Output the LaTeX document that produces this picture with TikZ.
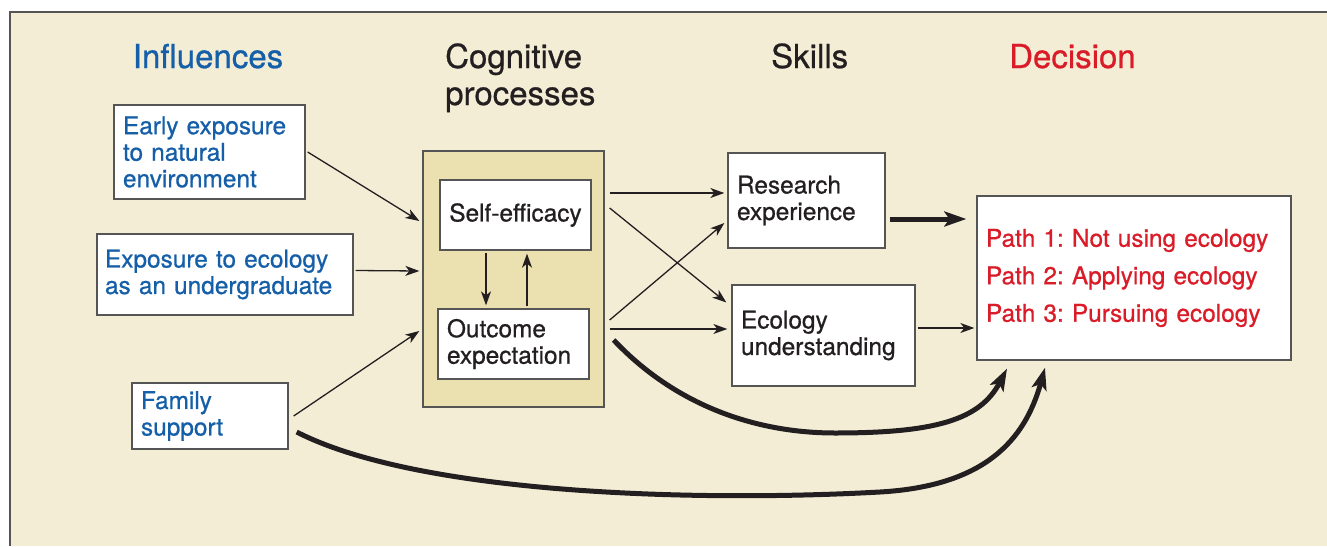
\documentclass[tikz,border=0pt]{standalone}
\usepackage{fontspec}
\setmainfont{TeX Gyre Heros}[FakeBold=0.7]
\usetikzlibrary{arrows.meta}
\definecolor{cream}{RGB}{244,237,214}
\definecolor{cogfill}{RGB}{235,224,176}
\definecolor{framegray}{RGB}{85,85,85}
\definecolor{inkblack}{RGB}{35,31,32}
\definecolor{inkblue}{RGB}{21,94,168}
\definecolor{inkred}{RGB}{218,27,40}
\tikzset{
  box/.style={draw=framegray, line width=1.3pt, fill=white, inner sep=0pt, align=left,
    font=\fontsize{24.4}{26.5}\selectfont},
  heading/.style={font=\fontsize{33}{37}\selectfont, inner sep=0pt, align=left},
  thinarrow/.style={draw=inkblack, line width=1.3pt, -{Stealth[length=14pt,width=10pt,inset=4pt]}},
  thickarrow/.style={draw=inkblack, line width=5pt, -{Stealth[length=22pt,width=15pt,inset=5pt]}},
}
\frenchspacing
\begin{document}
\begin{tikzpicture}[x=1pt,y=-1pt]
\useasboundingbox (0,0) rectangle (1327,546);
\fill[white] (0,0) rectangle (1327,546);
\fill[cream] (10,12) rectangle (1327,546);
\draw[framegray, line width=2pt] (10,546) -- (10,12) -- (1327,12);

% headings
\node[heading, text=inkblue, anchor=base] (hinf) at (208,68) {Influences};
\node[heading, text=inkblack, anchor=base west] (hcog) at (445,105) {Cognitive\\processes};
\node[heading, text=inkblack, anchor=base west] (hskill) at (771,68) {Skills};
\node[heading, text=inkred, anchor=base west] (hdec) at (1009,68) {Decision};

% influences
\node[box, text=inkblue, minimum width=191pt, minimum height=94pt, text width=173pt] (early) at (209.5,152)
  {Early exposure\\to natural\\environment};
\node[box, text=inkblue, minimum width=256pt, minimum height=81pt, text width=240pt] (expo) at (225,274.5)
  {Exposure to ecology\\as an undergraduate};
\node[box, text=inkblue, minimum width=156pt, minimum height=66pt, text width=138pt] (family) at (210,416)
  {Family\\support};

% cognitive processes
\node[draw=framegray, line width=1.3pt, fill=cogfill, minimum width=181pt, minimum height=256pt, inner sep=0pt] (cog) at (513.5,279) {};
\node[box, text=inkblack, minimum width=151pt, minimum height=70pt, align=center] (self) at (515.5,215) {Self-efficacy};
\node[box, text=inkblack, minimum width=151pt, minimum height=70pt, text width=133pt] (outc) at (513.5,344)
  {Outcome\\expectation};

% skills
\node[box, text=inkblack, minimum width=157pt, minimum height=95pt, text width=139pt] (research) at (806.5,200.5)
  {Research\\experience};
\node[box, text=inkblack, minimum width=183pt, minimum height=101pt, text width=165pt] (ecol) at (823.5,335.5)
  {Ecology\\understanding};

% decision
\node[box, text=inkred, minimum width=314pt, minimum height=164pt, text width=296pt,
  font=\fontsize{24.4}{37.5}\selectfont] (dec) at (1134,278)
  {Path 1: Not using ecology\\Path 2: Applying ecology\\Path 3: Pursuing ecology};

% connectors
\draw[thinarrow] ([shift={(2,0)}]early.east) -- ([shift={(-3,-58)}]cog.west);
\draw[thinarrow] ([shift={(2,-4)}]expo.east) -- ([shift={(-3,-8)}]cog.west);
\draw[thinarrow] ([shift={(5,0)}]family.east) -- ([shift={(-3,52)}]cog.west);

\draw[thinarrow] ([shift={(-29.5,2)}]self.south) -- ([shift={(-27.5,-3)}]outc.north);
\draw[thinarrow] ([shift={(13.5,-2)}]outc.north) -- ([shift={(11.5,3)}]self.south);

\draw[thinarrow] ([shift={(5,-86)}]cog.east) -- ([shift={(-3,-7.5)}]research.west);
\draw[thinarrow] ([shift={(5,-71)}]cog.east) -- ([shift={(-5,-33)}]ecol.west);
\draw[thinarrow] ([shift={(5,41)}]cog.east) -- ([shift={(-3,22.5)}]research.west);
\draw[thinarrow] ([shift={(5,50)}]cog.east) -- ([shift={(-4,-6.5)}]ecol.west);

\draw[thinarrow] ([shift={(2,-7.5)}]ecol.east) -- ([shift={(-2,50)}]dec.west);
\draw[thickarrow] ([shift={(4,18.5)}]research.east) -- ([shift={(-10,-59)}]dec.west);

\draw[thickarrow] ([shift={(9,61)}]cog.east) .. controls (675,405) and (755,433) .. (835,433)
  .. controls (935,433) and (980,420) .. ([shift={(-127,8)}]dec.south);
\draw[thickarrow] ([shift={(8,16)}]family.east) .. controls (420,495) and (700,502) .. (880,492)
  .. controls (985,486) and (1025,440) .. ([shift={(-89,7)}]dec.south);
\end{tikzpicture}
\end{document}
